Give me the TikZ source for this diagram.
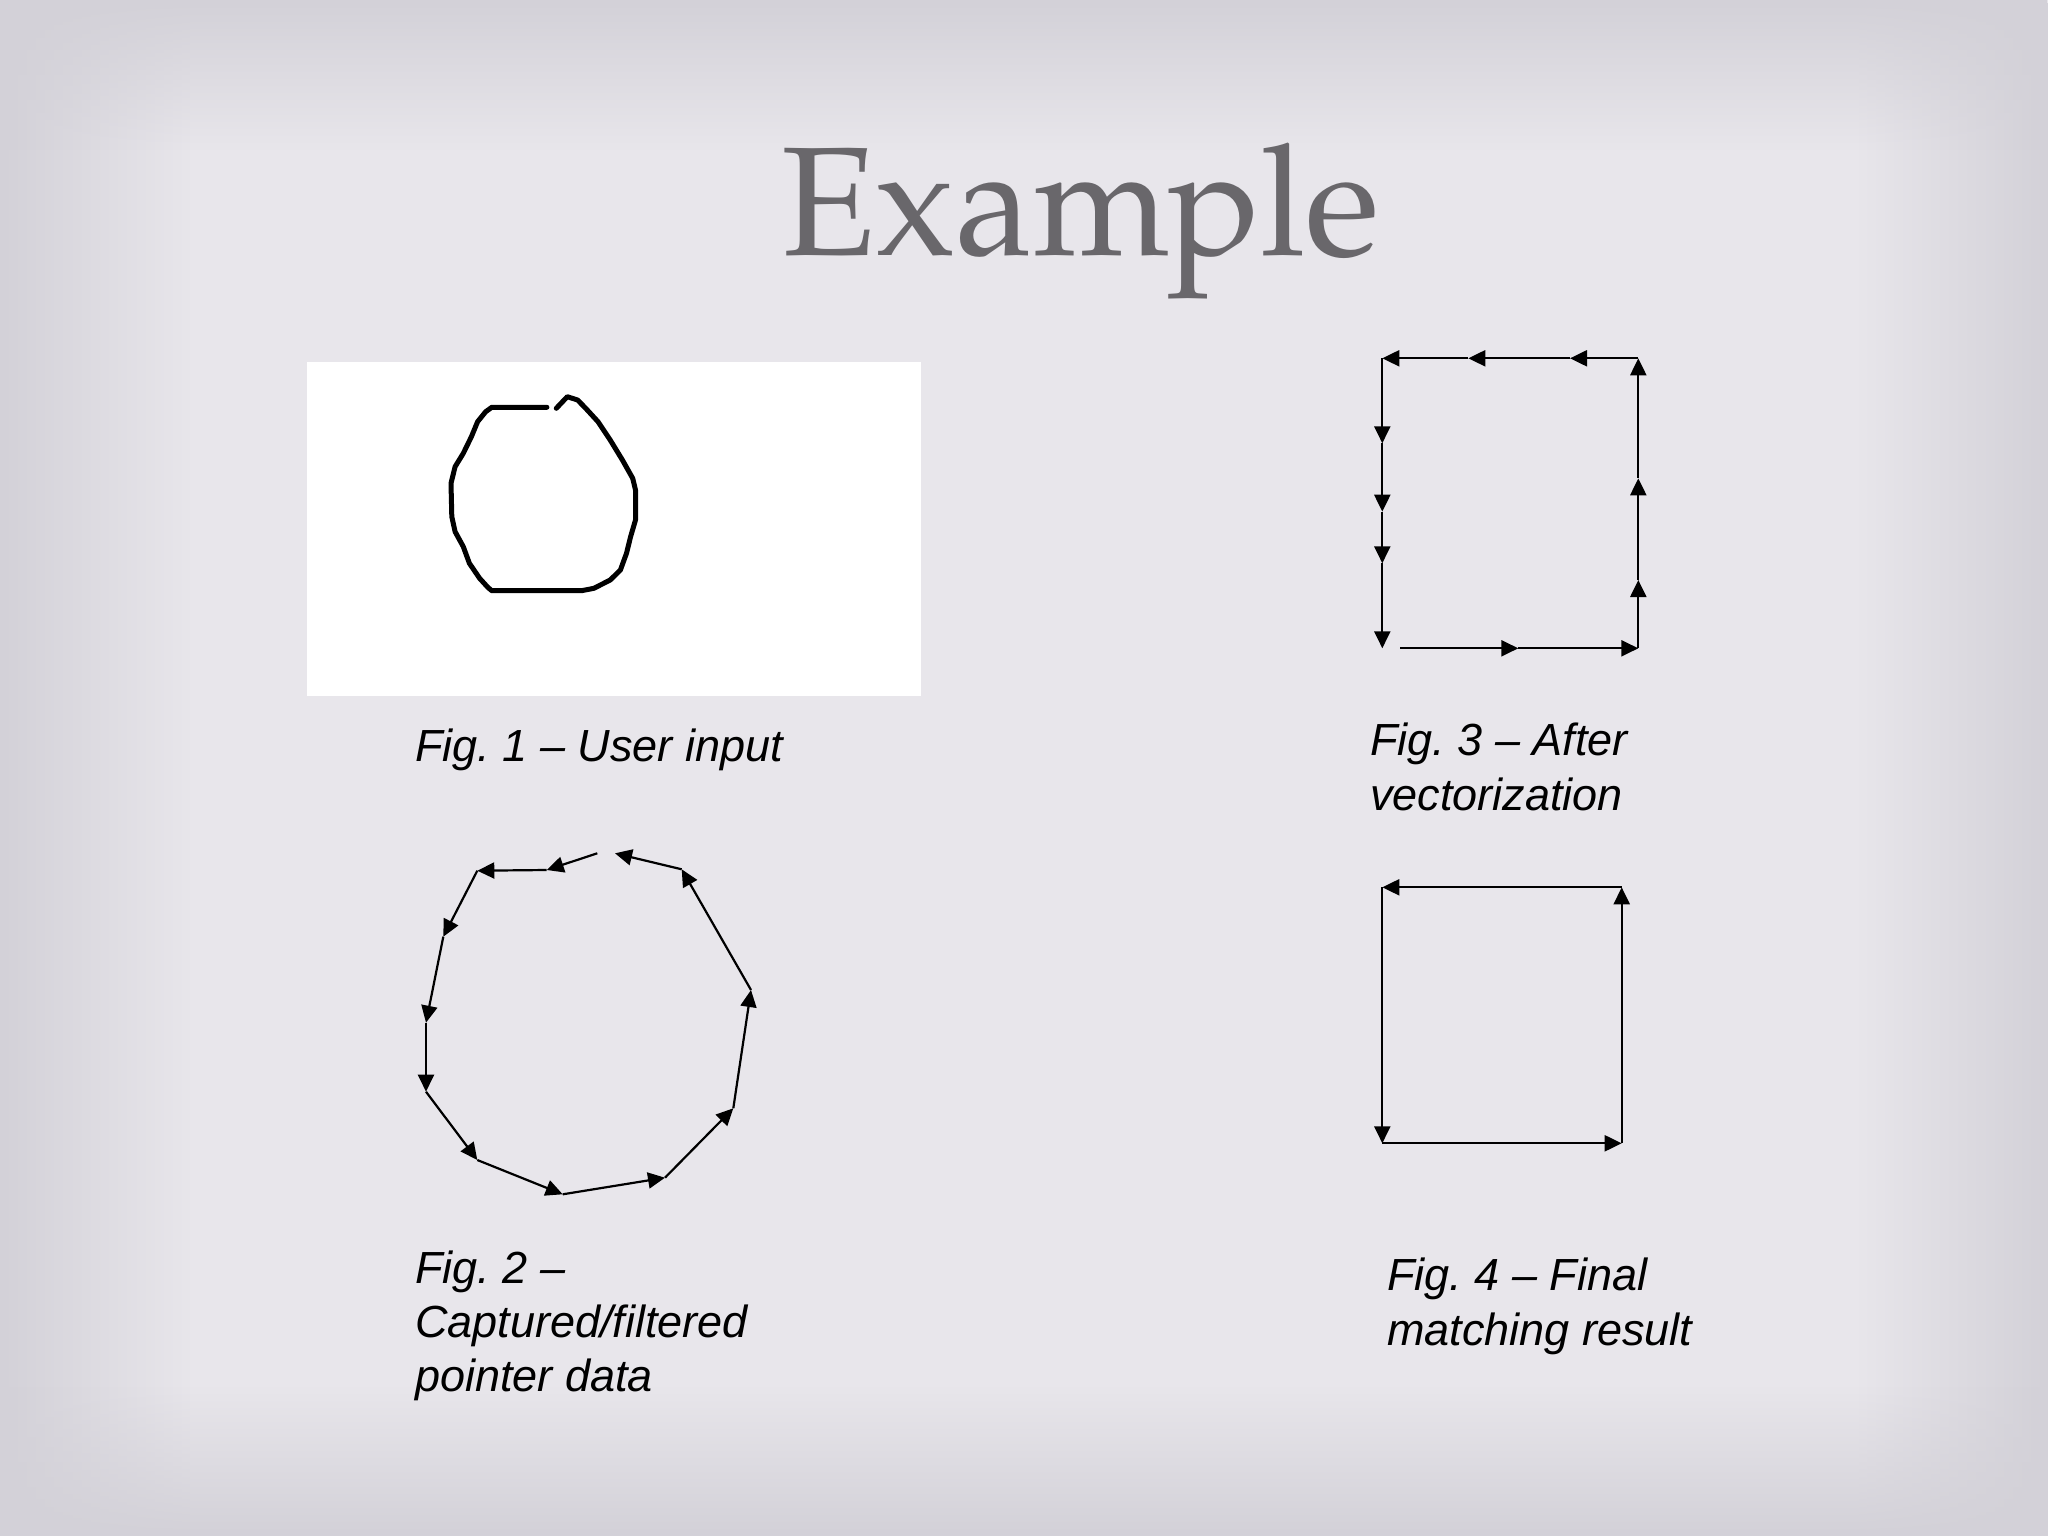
\documentclass[tikz,border=0pt]{standalone}
\usepackage{fontspec}
\setmainfont{Liberation Sans}
\newfontfamily\titlefont{TeX Gyre Pagella}
\newfontfamily\capfont{Liberation Sans}
\usetikzlibrary{arrows.meta,fadings}
\definecolor{bgin}{HTML}{E8E6EB}
\definecolor{bgedge}{HTML}{D3D1D8}
\definecolor{titlegray}{HTML}{69676B}
\tikzfading[name=fadetoright, left color=transparent!0, right color=transparent!100]
\tikzfading[name=fadetoleft, left color=transparent!100, right color=transparent!0]
\tikzfading[name=fadetodown, top color=transparent!0, bottom color=transparent!100]
\tikzfading[name=fadetoup, top color=transparent!100, bottom color=transparent!0]
\tikzset{
  vec/.style={line width=2.2pt, -{Triangle[length=17pt,width=16pt]}},
  captxt/.style={anchor=base west, inner sep=0pt, font=\capfont\itshape\fontsize{45}{55}\selectfont, text=black},
  stroke/.style={line width=5pt, line join=round, line cap=round, black}
}
\begin{document}
\frenchspacing
\begin{tikzpicture}[x=1pt,y=-1pt]
\useasboundingbox (0,0) rectangle (2048,1536);
% background with edge vignette
\fill[bgin] (0,0) rectangle (2048,1536);
\fill[bgedge, path fading=fadetoright] (0,0) rectangle (190,1536);
\fill[bgedge, path fading=fadetoleft] (1858,0) rectangle (2048,1536);
\fill[bgedge, path fading=fadetodown] (0,0) rectangle (2048,150);
\fill[bgedge, path fading=fadetoup] (0,1386) rectangle (2048,1536);

% Title
\node[anchor=base west, inner sep=0pt, text=titlegray, font=\titlefont\fontsize{155}{155}\selectfont] (title) at (781,255) {Example};

% Fig 1: user input
\fill[white] (307,362) rectangle (921,696);
\draw[stroke] (546.9,407.3) -- (491.8,407.3) -- (485.7,411.7) -- (477.6,421.7) -- (471.4,436.7) -- (463.3,453.3) -- (455.1,466.7) -- (451,483.3) -- (451.8,516.7) -- (455.1,531.7) -- (463.3,546.7) -- (469.4,563.3) -- (479.6,578.3) -- (487.8,587.3) -- (491.8,590.7) -- (581.6,590.7) -- (593.9,588.3) -- (610.2,580) -- (620.4,570) -- (626.5,553.3) -- (630.6,536.7) -- (635.5,520) -- (635.5,490) -- (632.7,478.3) -- (622.4,460) -- (610.2,440) -- (598,421.7) -- (585.7,408.3) -- (577.6,400) -- (567.3,396.7) -- (556.3,408.3);
\node[captxt] (cap1) at (415,761) {Fig. 1 – User input};

% Fig 2: captured / filtered pointer data
\coordinate (p0) at (597.3,853.3);
\coordinate (p1) at (546.7,870);
\coordinate (p2) at (477.3,870.7);
\coordinate (p3) at (443.3,936.7);
\coordinate (p4) at (426,1022.7);
\coordinate (p5) at (426,1091.7);
\coordinate (p6) at (477.3,1160);
\coordinate (p7) at (562.7,1194.3);
\coordinate (p8) at (665,1177.7);
\coordinate (p9) at (733.3,1108.3);
\coordinate (p10) at (751,990);
\coordinate (p11) at (681.7,869.3);
\coordinate (p12) at (615,853.3);
\foreach \a/\b in {p0/p1,p1/p2,p2/p3,p3/p4,p4/p5,p5/p6,p6/p7,p7/p8,p8/p9,p9/p10,p10/p11,p11/p12}
  \draw[vec] (\a) -- (\b);
\node[captxt] (cap2a) at (415,1283) {Fig. 2 –};
\node[captxt] (cap2b) at (415,1337) {Captured/filtered};
\node[captxt] (cap2c) at (415,1391) {pointer data};

% Fig 3: after vectorization
\coordinate (a1) at (1638.3,358.3);
\coordinate (a2) at (1570,358.3);
\coordinate (a3) at (1468.3,358.3);
\coordinate (a4) at (1382.3,358.3);
\coordinate (a5) at (1382.3,443.3);
\coordinate (a6) at (1382.3,511.7);
\coordinate (a7) at (1382.3,563.3);
\coordinate (a8) at (1382.3,648.3);
\coordinate (a9) at (1400,648.3);
\coordinate (a10) at (1518.3,648.3);
\coordinate (a11) at (1638.3,648.3);
\coordinate (a12) at (1638.3,580);
\coordinate (a13) at (1638.3,478.3);
\foreach \a/\b in {a1/a2,a2/a3,a3/a4,a4/a5,a5/a6,a6/a7,a7/a8,a9/a10,a10/a11,a11/a12,a12/a13,a13/a1}
  \draw[vec] (\a) -- (\b);
\node[captxt] (cap3a) at (1370,755) {Fig. 3 – After};
\node[captxt] (cap3b) at (1370,810) {vectorization};

% Fig 4: final matching result
\coordinate (b1) at (1621.7,887.3);
\coordinate (b2) at (1382.3,887.3);
\coordinate (b3) at (1382.3,1143.3);
\coordinate (b4) at (1621.7,1143.3);
\foreach \a/\b in {b1/b2,b2/b3,b3/b4,b4/b1}
  \draw[vec] (\a) -- (\b);
\node[captxt] (cap4a) at (1387,1290) {Fig. 4 – Final};
\node[captxt] (cap4b) at (1387,1345) {matching result};
\end{tikzpicture}
\end{document}
